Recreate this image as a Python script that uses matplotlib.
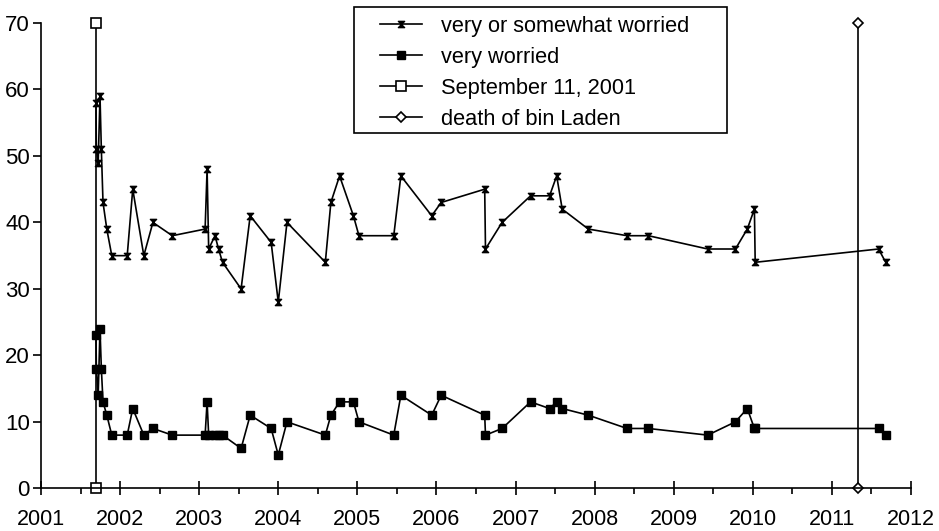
import numpy as np
import matplotlib
matplotlib.use("Agg")
import matplotlib.pyplot as plt
from matplotlib.path import Path
from matplotlib.patches import Rectangle
from matplotlib.ticker import MultipleLocator

plt.rcParams['font.family'] = ['Liberation Sans', 'DejaVu Sans']

# poll dates (decimal years) and shares of respondents (%)
poll_dates = [2001.695, 2001.700, 2001.723, 2001.746, 2001.763, 2001.784, 2001.832, 2001.895,
              2002.09, 2002.16, 2002.30, 2002.415, 2002.66,
              2003.075, 2003.10, 2003.12, 2003.20, 2003.245, 2003.295, 2003.53, 2003.645, 2003.91,
              2004.00, 2004.11, 2004.595, 2004.665, 2004.775, 2004.95,
              2005.02, 2005.46, 2005.55, 2005.94,
              2006.06, 2006.61, 2006.62, 2006.83,
              2007.19, 2007.43, 2007.52, 2007.59, 2007.92,
              2008.41, 2008.68,
              2009.43, 2009.78, 2009.93,
              2010.02, 2010.03,
              2011.59, 2011.68]
very_or_somewhat = [58, 51, 49, 59, 51, 43, 39, 35,
                    35, 45, 35, 40, 38,
                    39, 48, 36, 38, 36, 34, 30, 41, 37,
                    28, 40, 34, 43, 47, 41,
                    38, 38, 47, 41,
                    43, 45, 36, 40,
                    44, 44, 47, 42, 39,
                    38, 38,
                    36, 36, 39,
                    42, 34,
                    36, 34]
very = [23, 18, 14, 24, 18, 13, 11, 8,
        8, 12, 8, 9, 8,
        8, 13, 8, 8, 8, 8, 6, 11, 9,
        5, 10, 8, 11, 13, 13,
        10, 8, 14, 11,
        14, 11, 8, 9,
        13, 12, 13, 12, 11,
        9, 9,
        8, 10, 12,
        9, 9,
        9, 8]

sept11 = 2001.70
bin_laden = 2011.33
event_span = [0, 70]

hourglass = Path([(-1, 1), (1, 1), (-1, -1), (1, -1), (-1, 1)],
                 [Path.MOVETO, Path.LINETO, Path.LINETO, Path.LINETO, Path.CLOSEPOLY])

W, H = 939, 531
fig = plt.figure(figsize=(W / 100, H / 100), dpi=100)
ax = fig.add_axes([41 / W, 1 - 488.3 / H, 870 / W, 465.3 / H])

ax.plot(poll_dates, very_or_somewhat, color="black", lw=1.2, marker=hourglass, ms=4.5,
        label="very or somewhat worried")
ax.plot(poll_dates, very, color="black", lw=1.2, marker="s", ms=5.2,
        label="very worried")
ax.plot([sept11, sept11], event_span, color="black", lw=1.2, marker="s", ms=7,
        mfc="white", mec="black", mew=1.2, clip_on=False, label="September 11, 2001")
ax.plot([bin_laden, bin_laden], event_span, color="black", lw=1.2, marker="D", ms=5.5,
        mfc="white", mec="black", mew=1.2, clip_on=False, label="death of bin Laden")

ax.set_xlim(2001, 2012)
ax.set_ylim(0, 70)
ax.xaxis.set_major_locator(MultipleLocator(1))
ax.xaxis.set_minor_locator(MultipleLocator(0.5))
ax.yaxis.set_major_locator(MultipleLocator(10))
ax.xaxis.set_major_formatter(plt.FuncFormatter(lambda v, p: f"{v:.0f}"))

for s in ("top", "right"):
    ax.spines[s].set_visible(False)
for s in ("left", "bottom"):
    ax.spines[s].set_linewidth(1.2)

ax.tick_params(axis="x", which="major", direction="inout", length=10, width=1.2,
               labelsize=15.5, pad=10)
ax.tick_params(axis="x", which="minor", direction="out", length=4.5, width=1.2)
ax.tick_params(axis="y", which="major", direction="out", length=6, width=1.2,
               labelsize=16, pad=2)

# legend entries without frame, box drawn separately
leg = ax.legend(loc="upper left", bbox_to_anchor=(380 / W, 1 - 16 / H),
                bbox_transform=fig.transFigure, borderaxespad=0, borderpad=0,
                fontsize=15.7, frameon=False, handlelength=1.93, handletextpad=0.87,
                labelspacing=0.455)
fig.patches.append(Rectangle((354 / W, 1 - 133 / H), 373 / W, 126 / H,
                             transform=fig.transFigure, fill=False,
                             edgecolor="black", lw=1.2))

fig.savefig("out.png", dpi=100)
